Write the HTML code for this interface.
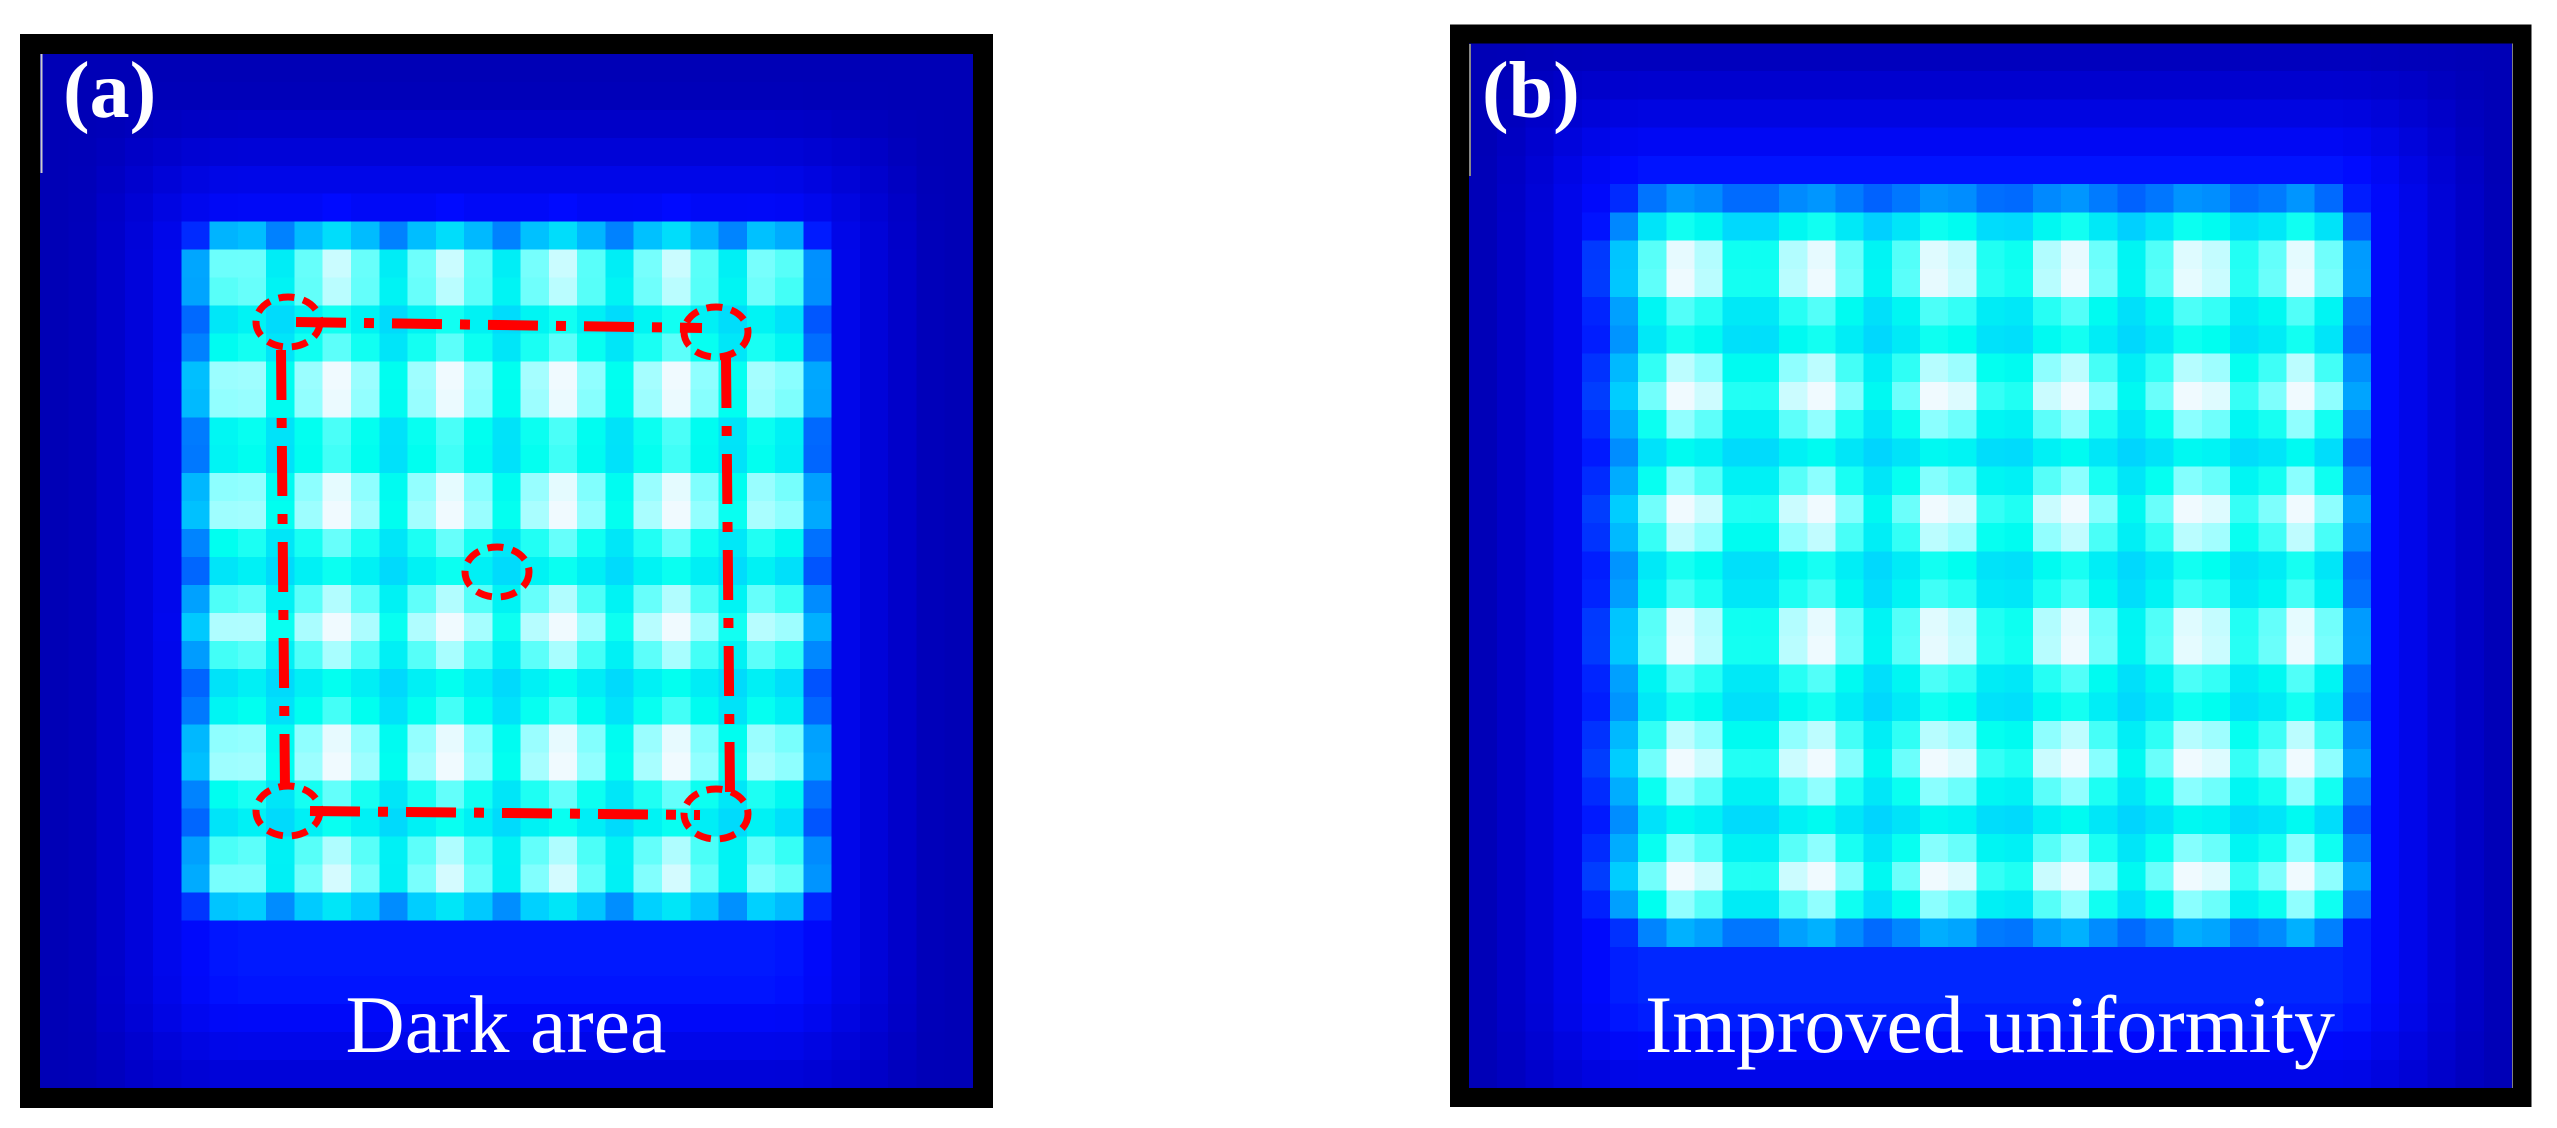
<!DOCTYPE html>
<html><head><meta charset="utf-8">
<style>
html,body{margin:0;padding:0;background:#fff;}
#root{position:relative;width:2557px;height:1128px;overflow:hidden;background:#fff;}
canvas{position:absolute;image-rendering:pixelated;}
svg{position:absolute;left:0;top:0;}
.serif{font-family:"Liberation Serif","DejaVu Serif",serif;}
</style></head><body>
<div id="root">
<canvas id="ca" style="left:40px;top:54px;width:933px;height:1034px;" width="33" height="37"></canvas>
<canvas id="cb" style="left:1469px;top:43px;width:1043px;height:1045px;" width="37" height="37"></canvas>
<svg width="2557" height="1128">
  <rect x="30" y="44" width="953" height="1054" fill="none" stroke="#000" stroke-width="20"/>
  <rect x="1459.5" y="34" width="1062.5" height="1063.5" fill="none" stroke="#000" stroke-width="19"/>
  <line x1="41.5" y1="54" x2="41.5" y2="173" stroke="#ccc" stroke-width="2"/>
  <line x1="1470" y1="44" x2="1470" y2="176" stroke="#888" stroke-width="2"/>
  <g fill="none" stroke="#ff0000" stroke-width="10" stroke-dasharray="50 18 10 18">
    <line x1="296" y1="322" x2="702" y2="328"/>
    <line x1="310" y1="811" x2="700" y2="815"/>
    <line x1="281" y1="350" x2="285" y2="790"/>
    <line x1="726" y1="358" x2="730" y2="795"/>
  </g>
  <g fill="none" stroke="#ff0000" stroke-width="7" stroke-dasharray="16 9">
    <ellipse cx="288" cy="322" rx="32" ry="25"/>
    <ellipse cx="716" cy="332" rx="32" ry="25"/>
    <ellipse cx="288" cy="811" rx="32" ry="25"/>
    <ellipse cx="716" cy="814" rx="32" ry="25"/>
    <ellipse cx="497" cy="572" rx="32" ry="25"/>
  </g>
  <text class="serif" x="63" y="117" font-weight="bold" font-size="80" fill="#fff">(a)</text>
  <text class="serif" x="1482" y="117" font-weight="bold" font-size="80" fill="#fff">(b)</text>
  <text class="serif" x="506" y="1052" text-anchor="middle" font-size="82" fill="#fff">Dark area</text>
  <text class="serif" x="1990" y="1052" text-anchor="middle" font-size="82" fill="#fff">Improved uniformity</text>
</svg>
</div>
<script>
function ss(e0,e1,x){var t=Math.min(1,Math.max(0,(x-e0)/(e1-e0)));return t*t*(3-2*t);}
function box(x,a,b,s){return ss(a-s,a+s,x)*(1-ss(b-s,b+s,x));}
function pk(x,cs,w){var m=0;for(var i=0;i<cs.length;i++){m=Math.max(m,Math.exp(-(x-cs[i])*(x-cs[i])/(2*w*w)));}return m;}
function cmap(v){
  var stops=[[0,[0,0,110]],[0.15,[0,0,200]],[0.3,[0,10,255]],[0.45,[0,120,255]],[0.58,[0,210,255]],[0.72,[0,255,240]],[0.86,[140,255,255]],[1,[240,250,255]]];
  v=Math.max(0,Math.min(1,v));
  for(var i=1;i<stops.length;i++){if(v<=stops[i][0]){var a=stops[i-1],b=stops[i];var t=(v-a[0])/(b[0]-a[0]);
    return [0,1,2].map(function(k){return Math.round(a[1][k]+(b[1][k]-a[1][k])*t);});}}
  return stops[stops.length-1][1];
}
function draw(id,ox,oy,W,H,cols,rows,px,py,cx,cy,bgx,bgy,bgl){
  var c=document.getElementById(id),g=c.getContext('2d');
  var img=g.createImageData(cols,rows);
  var cw=W/cols,ch=H/rows;
  for(var j=0;j<rows;j++)for(var i=0;i<cols;i++){
    var x=ox+(i+0.5)*cw,y=oy+(j+0.5)*ch;
    var p=box(x,px[0],px[1],75)*box(y,py[0],py[1],75);
    var a=pk(x,cx,30),b=pk(y,cy,30);
    var v=p*(0.56+0.1*(a+b)+0.28*a*b);
    var bg=bgl*box(x,bgx[0],bgx[1],90)*box(y,bgy[0],bgy[1],90)+0.12;
    v=Math.max(v,bg);
    var col=cmap(v);var k=(j*cols+i)*4;
    img.data[k]=col[0];img.data[k+1]=col[1];img.data[k+2]=col[2];img.data[k+3]=255;
  }
  g.putImageData(img,0,0);
}
draw('ca',40,54,933,1034,33,37,[182,828],[216,928],[225,337,449,561,674,786],[266,388,504,626,755,878],[150,860],[170,1060],0.2);
draw('cb',1469,43,1043,1045,37,37,[1590,2375],[175,955],[1687,1815,1944,2069,2198,2308],[270,392,514,637,759,881],[1560,2420],[120,1080],0.22);
</script>
</body></html>
